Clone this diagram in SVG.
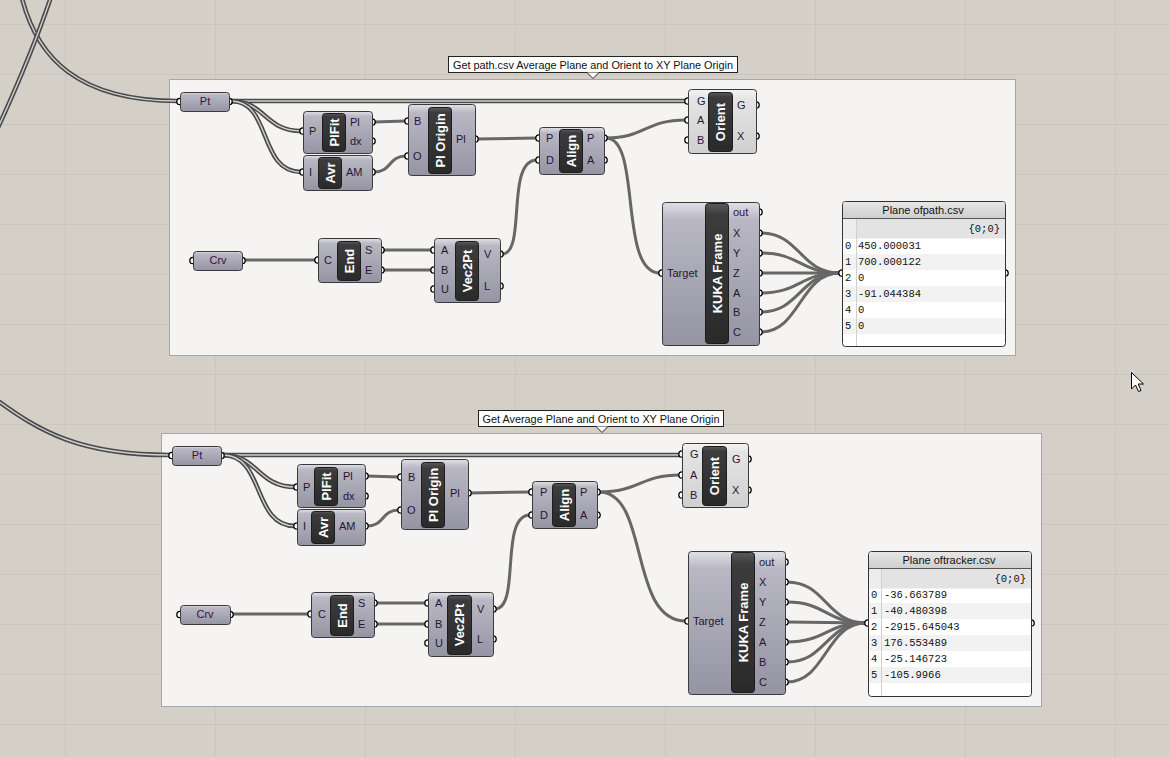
<svg xmlns="http://www.w3.org/2000/svg" width="1169" height="757" viewBox="0 0 1169 757">
<defs>
<linearGradient id="cg" x1="0" y1="0" x2="0" y2="1">
<stop offset="0" stop-color="#e0e0e6"/><stop offset="0.12" stop-color="#b8b7c3"/><stop offset="1" stop-color="#9594a3"/>
</linearGradient>
<linearGradient id="cl" x1="0" y1="0" x2="0" y2="1">
<stop offset="0" stop-color="#f4f4f4"/><stop offset="0.15" stop-color="#e4e4e4"/><stop offset="1" stop-color="#d0d0d0"/>
</linearGradient>
<linearGradient id="ig" x1="0" y1="0" x2="0" y2="1">
<stop offset="0" stop-color="#5a5a5a"/><stop offset="0.08" stop-color="#3c3c3c"/><stop offset="1" stop-color="#2a2a2a"/>
</linearGradient>
<linearGradient id="hg" x1="0" y1="0" x2="0" y2="1">
<stop offset="0" stop-color="#e6e6e6"/><stop offset="1" stop-color="#cfcfcf"/>
</linearGradient>
<pattern id="grid" x="65" y="24" width="150" height="50" patternUnits="userSpaceOnUse">
<path d="M0,0 H150 M0,0 V50" stroke="#bfbbb3" stroke-width="1" fill="none"/>
</pattern>
</defs>
<style>
.grp{fill:#f5f4f2;stroke:#a6a6a6;stroke-width:1}
.body{fill:url(#cg);stroke:#3a3a3a;stroke-width:1}
.bodyl{fill:url(#cl);stroke:#3a3a3a;stroke-width:1}
.inner{fill:url(#ig);stroke:#1c1c1c;stroke-width:1}
.grip{fill:#fff;stroke:#000;stroke-width:1.3}
.lbl{font-family:"Liberation Sans",Arial,sans-serif;font-size:11px;fill:#2a1530;dominant-baseline:central}
.vt{font-family:"Liberation Sans",Arial,sans-serif;font-size:13px;font-weight:bold;fill:#fff;text-anchor:middle;dominant-baseline:central}
.pl{font-family:"Liberation Sans",Arial,sans-serif;font-size:11px;fill:#3a1040;text-anchor:middle;dominant-baseline:central}
.w{fill:none;stroke:#676767;stroke-width:3}
.wo{fill:none;stroke:#4a4a4a;stroke-width:4.6}
.wi{fill:none;stroke:#cfcfcf;stroke-width:1.4}
.ttl{fill:#fff;stroke:#222;stroke-width:1}
.tt{font-family:"Liberation Sans",Arial,sans-serif;font-size:11px;fill:#111;text-anchor:middle;dominant-baseline:central}
.pbody{fill:#fff;stroke:#333;stroke-width:1}
.ph{font-family:"Liberation Sans",Arial,sans-serif;font-size:11px;fill:#111;text-anchor:middle;dominant-baseline:central}
.mono{font-family:"Liberation Mono","Courier New",monospace;font-size:10.5px;fill:#111;dominant-baseline:central}
.alt{fill:#f2f2f2}
.sep{stroke:#d0d0d0;stroke-width:1}
</style>
<rect width="1169" height="757" fill="#d4d0c8"/>
<rect width="1169" height="757" fill="url(#grid)"/>

<!-- groups -->
<g id="group-top">
<rect class="grp" x="169.5" y="79.5" width="846" height="276"/>
<rect class="ttl" x="448.5" y="56.5" width="289" height="16"/>
<text class="tt" x="593" y="64.5" textLength="280" lengthAdjust="spacingAndGlyphs">Get path.csv Average Plane and Orient to XY Plane Origin</text>
<polyline points="587,72.5 593,78.5 599,72.5" fill="#fff" stroke="#222" stroke-width="1"/>
</g>
<g id="group-bottom">
<rect class="grp" x="161.5" y="433.5" width="880" height="273"/>
<rect class="ttl" x="478.5" y="410.5" width="245" height="16"/>
<text class="tt" x="601" y="418.5" textLength="237" lengthAdjust="spacingAndGlyphs">Get Average Plane and Orient to XY Plane Origin</text>
<polyline points="596,426.5 602,432.5 608,426.5" fill="#fff" stroke="#222" stroke-width="1"/>
</g>

<!-- connectors -->
<g id="connectors">
<!-- list (double) wires -->
<path class="wo" d="M20,-10 C35,60 80,101 178,101"/>
<path class="wi" d="M20,-10 C35,60 80,101 178,101"/>
<path class="wo" d="M52,-6 C40,30 20,80 -4,132"/>
<path class="wi" d="M52,-6 C40,30 20,80 -4,132"/>
<path class="wo" d="M-6,398 C40,432 80,455 170,455"/>
<path class="wi" d="M-6,398 C40,432 80,455 170,455"/>

<path class="wo" d="M231,101 L686,101"/><path class="wi" d="M231,101 L686,101"/>
<path class="wo" d="M231,101 C265,101 265,131 301,131"/><path class="wi" d="M231,101 C265,101 265,131 301,131"/>
<path class="wo" d="M231,101 C272,101 258,172 301,172"/><path class="wi" d="M231,101 C272,101 258,172 301,172"/>

<path class="wo" d="M223,455 L680,455"/><path class="wi" d="M223,455 L680,455"/>
<path class="wo" d="M223,455 C258,455 258,487 295,487"/><path class="wi" d="M223,455 C258,455 258,487 295,487"/>
<path class="wo" d="M223,455 C265,455 252,526 295,526"/><path class="wi" d="M223,455 C265,455 252,526 295,526"/>

<!-- top single wires -->
<path class="w" d="M374,122 L406,121"/>
<path class="w" d="M374,172 C392,172 388,156 406,156"/>
<path class="w" d="M477,139 L537,138"/>
<path class="w" d="M606,138 C645,138 645,120 686,120"/>
<path class="w" d="M606,138 C642,138 618,273 660,273"/>
<path class="w" d="M502,254 C527,254 505,160 537,160"/>
<path class="w" d="M244,260 L316,260"/>
<path class="w" d="M383,250 L432,250"/>
<path class="w" d="M383,270 L432,270"/>
<path class="w" d="M761,233 C800,233 800,273 840,273"/>
<path class="w" d="M761,253 C800,253 800,273 840,273"/>
<path class="w" d="M761,273 L840,273"/>
<path class="w" d="M761,293 C800,293 800,273 840,273"/>
<path class="w" d="M761,312 C800,312 800,273 840,273"/>
<path class="w" d="M761,332 C800,332 800,273 840,273"/>

<!-- bottom single wires -->
<path class="w" d="M367,476 L399,477"/>
<path class="w" d="M367,526 C385,526 381,510 399,510"/>
<path class="w" d="M470,493 L530,492"/>
<path class="w" d="M599,492 C640,492 640,475 680,475"/>
<path class="w" d="M599,492 C650,492 628,621 686,621"/>
<path class="w" d="M495,609 C521,609 499,515 530,515"/>
<path class="w" d="M232,614 L309,614"/>
<path class="w" d="M376,603 L426,603"/>
<path class="w" d="M376,624 L426,624"/>
<path class="w" d="M787,582 C826,582 826,623 866,623"/>
<path class="w" d="M787,602 C826,602 826,623 866,623"/>
<path class="w" d="M787,622 L866,623"/>
<path class="w" d="M787,642 C826,642 826,623 866,623"/>
<path class="w" d="M787,662 C826,662 826,623 866,623"/>
<path class="w" d="M787,682 C826,682 826,623 866,623"/>
</g>

<!-- ===== TOP NODES ===== -->
<g id="t-pt">
<circle class="grip" cx="180" cy="101.5" r="3.2"/><circle class="grip" cx="229" cy="101.5" r="3.2"/>
<rect class="body" x="180.5" y="92.5" width="49" height="19" rx="3"/>
<text class="pl" x="205" y="101">Pt</text>
</g>
<g id="t-plfit">
<circle class="grip" cx="303" cy="131" r="3.2"/><circle class="grip" cx="372" cy="122" r="3.2"/><circle class="grip" cx="372" cy="141" r="3.2"/>
<rect class="body" x="303.5" y="111.5" width="69" height="42" rx="3"/>
<rect class="inner" x="322.5" y="113.5" width="23" height="38" rx="3"/>
<text class="vt" transform="translate(334,132.5) rotate(-90)">PlFit</text>
<text class="lbl" x="309" y="131">P</text><text class="lbl" x="350" y="122">Pl</text><text class="lbl" x="350" y="141">dx</text>
</g>
<g id="t-avr">
<circle class="grip" cx="303" cy="172" r="3.2"/><circle class="grip" cx="372" cy="172" r="3.2"/>
<rect class="body" x="303.5" y="155.5" width="69" height="35" rx="3"/>
<rect class="inner" x="318.5" y="157.5" width="23" height="31" rx="3"/>
<text class="vt" transform="translate(330,173) rotate(-90)">Avr</text>
<text class="lbl" x="309" y="172">I</text><text class="lbl" x="346" y="172">AM</text>
</g>
<g id="t-plorigin">
<circle class="grip" cx="408" cy="121" r="3.2"/><circle class="grip" cx="408" cy="156" r="3.2"/><circle class="grip" cx="475" cy="139" r="3.2"/>
<rect class="body" x="408.5" y="104.5" width="67" height="71" rx="3"/>
<rect class="inner" x="428.5" y="107.5" width="23" height="66" rx="3"/>
<text class="vt" transform="translate(440,140.5) rotate(-90)">Pl Origin</text>
<text class="lbl" x="414" y="121">B</text><text class="lbl" x="413" y="156">O</text><text class="lbl" x="456" y="139">Pl</text>
</g>
<g id="t-align">
<circle class="grip" cx="539" cy="138" r="3.2"/><circle class="grip" cx="539" cy="160" r="3.2"/><circle class="grip" cx="604" cy="138" r="3.2"/><circle class="grip" cx="604" cy="160" r="3.2"/>
<rect class="body" x="539.5" y="127.5" width="65" height="47" rx="3"/>
<rect class="inner" x="559.5" y="129.5" width="23" height="43" rx="3"/>
<text class="vt" transform="translate(571,151) rotate(-90)">Align</text>
<text class="lbl" x="546" y="138">P</text><text class="lbl" x="546" y="160">D</text><text class="lbl" x="587" y="138">P</text><text class="lbl" x="587" y="160">A</text>
</g>
<g id="t-orient">
<circle class="grip" cx="688" cy="101" r="3.2"/><circle class="grip" cx="688" cy="120" r="3.2"/><circle class="grip" cx="688" cy="140" r="3.2"/><circle class="grip" cx="756" cy="105" r="3.2"/><circle class="grip" cx="756" cy="136" r="3.2"/>
<rect class="bodyl" x="688.5" y="89.5" width="68" height="64" rx="3"/>
<rect class="inner" x="708.5" y="92.5" width="24" height="59" rx="3"/>
<text class="vt" transform="translate(720.5,122) rotate(-90)">Orient</text>
<text class="lbl" x="697" y="101">G</text><text class="lbl" x="697" y="120">A</text><text class="lbl" x="697" y="140">B</text><text class="lbl" x="737" y="105">G</text><text class="lbl" x="737" y="136">X</text>
</g>
<g id="t-crv">
<circle class="grip" cx="193" cy="260.5" r="3.2"/><circle class="grip" cx="242" cy="260.5" r="3.2"/>
<rect class="body" x="193.5" y="251.5" width="49" height="19" rx="3"/>
<text class="pl" x="218" y="260">Crv</text>
</g>
<g id="t-end">
<circle class="grip" cx="318" cy="260" r="3.2"/><circle class="grip" cx="381" cy="250" r="3.2"/><circle class="grip" cx="381" cy="270" r="3.2"/>
<rect class="body" x="318.5" y="238.5" width="63" height="44" rx="3"/>
<rect class="inner" x="337.5" y="241.5" width="23" height="39" rx="3"/>
<text class="vt" transform="translate(349,261) rotate(-90)">End</text>
<text class="lbl" x="324" y="260">C</text><text class="lbl" x="365" y="250">S</text><text class="lbl" x="365" y="270">E</text>
</g>
<g id="t-vec2pt">
<circle class="grip" cx="434" cy="250" r="3.2"/><circle class="grip" cx="434" cy="270" r="3.2"/><circle class="grip" cx="434" cy="289" r="3.2"/><circle class="grip" cx="500" cy="254" r="3.2"/><circle class="grip" cx="500" cy="286" r="3.2"/>
<rect class="body" x="434.5" y="238.5" width="66" height="64" rx="3"/>
<rect class="inner" x="455.5" y="241.5" width="23" height="59" rx="3"/>
<text class="vt" transform="translate(467,271) rotate(-90)">Vec2Pt</text>
<text class="lbl" x="441" y="250">A</text><text class="lbl" x="441" y="270">B</text><text class="lbl" x="441" y="289">U</text><text class="lbl" x="484" y="254">V</text><text class="lbl" x="484" y="286">L</text>
</g>
<g id="t-kuka">
<circle class="grip" cx="662" cy="273" r="3.2"/>
<circle class="grip" cx="759" cy="212" r="3.2"/><circle class="grip" cx="759" cy="233" r="3.2"/><circle class="grip" cx="759" cy="253" r="3.2"/><circle class="grip" cx="759" cy="273" r="3.2"/><circle class="grip" cx="759" cy="293" r="3.2"/><circle class="grip" cx="759" cy="312" r="3.2"/><circle class="grip" cx="759" cy="332" r="3.2"/>
<rect class="body" x="662.5" y="202.5" width="97" height="143" rx="3"/>
<rect class="inner" x="705.5" y="203.5" width="23" height="140" rx="3"/>
<text class="vt" transform="translate(717,273.5) rotate(-90)">KUKA Frame</text>
<text class="lbl" x="667" y="273">Target</text>
<text class="lbl" x="733" y="212">out</text><text class="lbl" x="733" y="233">X</text><text class="lbl" x="733" y="253">Y</text><text class="lbl" x="733" y="273">Z</text><text class="lbl" x="733" y="293">A</text><text class="lbl" x="733" y="312">B</text><text class="lbl" x="733" y="332">C</text>
</g>
<g id="t-panel">
<circle class="grip" cx="842" cy="273" r="3.2"/><circle class="grip" cx="1005" cy="273" r="3.2"/>
<rect class="pbody" x="842.5" y="201.5" width="163" height="145" rx="3"/>
<path d="M843,218 V204 Q843,202 845.5,202 H1002.5 Q1005,202 1005,204 V218 Z" fill="url(#hg)"/>
<rect x="843" y="218.5" width="162" height="20" fill="#e3e3e3"/>
<rect x="843" y="218.5" width="13" height="20" fill="#ededed"/>
<line x1="843" y1="218.5" x2="1005" y2="218.5" stroke="#555" stroke-width="1"/>
<rect class="alt" x="843" y="254" width="162" height="16"/>
<rect class="alt" x="843" y="286" width="162" height="16"/>
<rect class="alt" x="843" y="318" width="162" height="16"/>
<line class="sep" x1="856.5" y1="219" x2="856.5" y2="346"/>
<text class="ph" x="923" y="209.5">Plane ofpath.csv</text>
<text class="mono" x="1000" y="228.5" text-anchor="end">{0;0}</text>
<text class="mono" x="845" y="246">0</text><text class="mono" x="858" y="246">450.000031</text>
<text class="mono" x="845" y="262">1</text><text class="mono" x="858" y="262">700.000122</text>
<text class="mono" x="845" y="278">2</text><text class="mono" x="858" y="278">0</text>
<text class="mono" x="845" y="294">3</text><text class="mono" x="858" y="294">-91.044384</text>
<text class="mono" x="845" y="310">4</text><text class="mono" x="858" y="310">0</text>
<text class="mono" x="845" y="326">5</text><text class="mono" x="858" y="326">0</text>
</g>

<!-- ===== BOTTOM NODES ===== -->
<g id="b-pt">
<circle class="grip" cx="172" cy="455.5" r="3.2"/><circle class="grip" cx="221" cy="455.5" r="3.2"/>
<rect class="body" x="172.5" y="446.5" width="49" height="19" rx="3"/>
<text class="pl" x="197" y="455">Pt</text>
</g>
<g id="b-plfit">
<circle class="grip" cx="297" cy="487" r="3.2"/><circle class="grip" cx="365" cy="476" r="3.2"/><circle class="grip" cx="365" cy="496" r="3.2"/>
<rect class="body" x="297.5" y="464.5" width="68" height="43" rx="3"/>
<rect class="inner" x="314.5" y="467.5" width="23" height="38" rx="3"/>
<text class="vt" transform="translate(326,486.5) rotate(-90)">PlFit</text>
<text class="lbl" x="303" y="487">P</text><text class="lbl" x="343" y="476">Pl</text><text class="lbl" x="343" y="496">dx</text>
</g>
<g id="b-avr">
<circle class="grip" cx="297" cy="526" r="3.2"/><circle class="grip" cx="365" cy="526" r="3.2"/>
<rect class="body" x="297.5" y="509.5" width="68" height="36" rx="3"/>
<rect class="inner" x="311.5" y="511.5" width="23" height="32" rx="3"/>
<text class="vt" transform="translate(323,527.5) rotate(-90)">Avr</text>
<text class="lbl" x="303" y="526">I</text><text class="lbl" x="339" y="526">AM</text>
</g>
<g id="b-plorigin">
<circle class="grip" cx="401" cy="477" r="3.2"/><circle class="grip" cx="401" cy="510" r="3.2"/><circle class="grip" cx="468" cy="493" r="3.2"/>
<rect class="body" x="401.5" y="459.5" width="67" height="70" rx="3"/>
<rect class="inner" x="421.5" y="462.5" width="23" height="65" rx="3"/>
<text class="vt" transform="translate(433,495) rotate(-90)">Pl Origin</text>
<text class="lbl" x="408" y="477">B</text><text class="lbl" x="407" y="510">O</text><text class="lbl" x="450" y="493">Pl</text>
</g>
<g id="b-align">
<circle class="grip" cx="532" cy="492" r="3.2"/><circle class="grip" cx="532" cy="515" r="3.2"/><circle class="grip" cx="597" cy="492" r="3.2"/><circle class="grip" cx="597" cy="515" r="3.2"/>
<rect class="body" x="532.5" y="481.5" width="65" height="47" rx="3"/>
<rect class="inner" x="552.5" y="483.5" width="23" height="43" rx="3"/>
<text class="vt" transform="translate(564,505) rotate(-90)">Align</text>
<text class="lbl" x="540" y="492">P</text><text class="lbl" x="540" y="515">D</text><text class="lbl" x="580" y="492">P</text><text class="lbl" x="580" y="515">A</text>
</g>
<g id="b-orient">
<circle class="grip" cx="682" cy="454" r="3.2"/><circle class="grip" cx="682" cy="475" r="3.2"/><circle class="grip" cx="682" cy="495" r="3.2"/><circle class="grip" cx="748" cy="459" r="3.2"/><circle class="grip" cx="748" cy="490" r="3.2"/>
<rect class="bodyl" x="682.5" y="443.5" width="66" height="64" rx="3"/>
<rect class="inner" x="702.5" y="446.5" width="24" height="59" rx="3"/>
<text class="vt" transform="translate(714.5,476) rotate(-90)">Orient</text>
<text class="lbl" x="690" y="454">G</text><text class="lbl" x="690" y="475">A</text><text class="lbl" x="690" y="495">B</text><text class="lbl" x="732" y="459">G</text><text class="lbl" x="732" y="490">X</text>
</g>
<g id="b-crv">
<circle class="grip" cx="180" cy="614.5" r="3.2"/><circle class="grip" cx="230" cy="614.5" r="3.2"/>
<rect class="body" x="180.5" y="605.5" width="50" height="19" rx="3"/>
<text class="pl" x="205" y="614">Crv</text>
</g>
<g id="b-end">
<circle class="grip" cx="311" cy="614" r="3.2"/><circle class="grip" cx="374" cy="603" r="3.2"/><circle class="grip" cx="374" cy="624" r="3.2"/>
<rect class="body" x="311.5" y="592.5" width="63" height="45" rx="3"/>
<rect class="inner" x="330.5" y="595.5" width="23" height="40" rx="3"/>
<text class="vt" transform="translate(342,615.5) rotate(-90)">End</text>
<text class="lbl" x="318" y="614">C</text><text class="lbl" x="358" y="603">S</text><text class="lbl" x="358" y="624">E</text>
</g>
<g id="b-vec2pt">
<circle class="grip" cx="428" cy="603" r="3.2"/><circle class="grip" cx="428" cy="624" r="3.2"/><circle class="grip" cx="428" cy="643" r="3.2"/><circle class="grip" cx="493" cy="609" r="3.2"/><circle class="grip" cx="493" cy="639" r="3.2"/>
<rect class="body" x="428.5" y="592.5" width="65" height="64" rx="3"/>
<rect class="inner" x="447.5" y="595.5" width="24" height="59" rx="3"/>
<text class="vt" transform="translate(459.5,625) rotate(-90)">Vec2Pt</text>
<text class="lbl" x="435" y="603">A</text><text class="lbl" x="435" y="624">B</text><text class="lbl" x="435" y="643">U</text><text class="lbl" x="477" y="609">V</text><text class="lbl" x="477" y="639">L</text>
</g>
<g id="b-kuka">
<circle class="grip" cx="688" cy="621" r="3.2"/>
<circle class="grip" cx="785" cy="562" r="3.2"/><circle class="grip" cx="785" cy="582" r="3.2"/><circle class="grip" cx="785" cy="602" r="3.2"/><circle class="grip" cx="785" cy="622" r="3.2"/><circle class="grip" cx="785" cy="642" r="3.2"/><circle class="grip" cx="785" cy="662" r="3.2"/><circle class="grip" cx="785" cy="682" r="3.2"/>
<rect class="body" x="688.5" y="551.5" width="97" height="143" rx="3"/>
<rect class="inner" x="731.5" y="552.5" width="23" height="140" rx="3"/>
<text class="vt" transform="translate(743,622.5) rotate(-90)">KUKA Frame</text>
<text class="lbl" x="693" y="621">Target</text>
<text class="lbl" x="759" y="562">out</text><text class="lbl" x="759" y="582">X</text><text class="lbl" x="759" y="602">Y</text><text class="lbl" x="759" y="622">Z</text><text class="lbl" x="759" y="642">A</text><text class="lbl" x="759" y="662">B</text><text class="lbl" x="759" y="682">C</text>
</g>
<g id="b-panel">
<circle class="grip" cx="868" cy="623" r="3.2"/><circle class="grip" cx="1031" cy="623" r="3.2"/>
<rect class="pbody" x="868.5" y="551.5" width="163" height="145" rx="3"/>
<path d="M869,568 V554 Q869,552 871.5,552 H1028.5 Q1031,552 1031,554 V568 Z" fill="url(#hg)"/>
<rect x="869" y="568.5" width="162" height="20" fill="#e3e3e3"/>
<rect x="869" y="568.5" width="12" height="20" fill="#ededed"/>
<line x1="869" y1="568.5" x2="1031" y2="568.5" stroke="#555" stroke-width="1"/>
<rect class="alt" x="869" y="603" width="162" height="16"/>
<rect class="alt" x="869" y="635" width="162" height="16"/>
<rect class="alt" x="869" y="667" width="162" height="16"/>
<line class="sep" x1="881.5" y1="569" x2="881.5" y2="696"/>
<text class="ph" x="949" y="559.5">Plane oftracker.csv</text>
<text class="mono" x="1026" y="578.5" text-anchor="end">{0;0}</text>
<text class="mono" x="871" y="595">0</text><text class="mono" x="884" y="595">-36.663789</text>
<text class="mono" x="871" y="611">1</text><text class="mono" x="884" y="611">-40.480398</text>
<text class="mono" x="871" y="627">2</text><text class="mono" x="884" y="627">-2915.645043</text>
<text class="mono" x="871" y="643">3</text><text class="mono" x="884" y="643">176.553489</text>
<text class="mono" x="871" y="659">4</text><text class="mono" x="884" y="659">-25.146723</text>
<text class="mono" x="871" y="675">5</text><text class="mono" x="884" y="675">-105.9966</text>
</g>

<!-- mouse cursor -->
<path d="M1131.5,372.5 V389 L1135.5,385 L1138.5,391.5 L1141,390.5 L1138.2,384 L1143.5,384 Z" fill="#fff" stroke="#000" stroke-width="1"/>
</svg>
